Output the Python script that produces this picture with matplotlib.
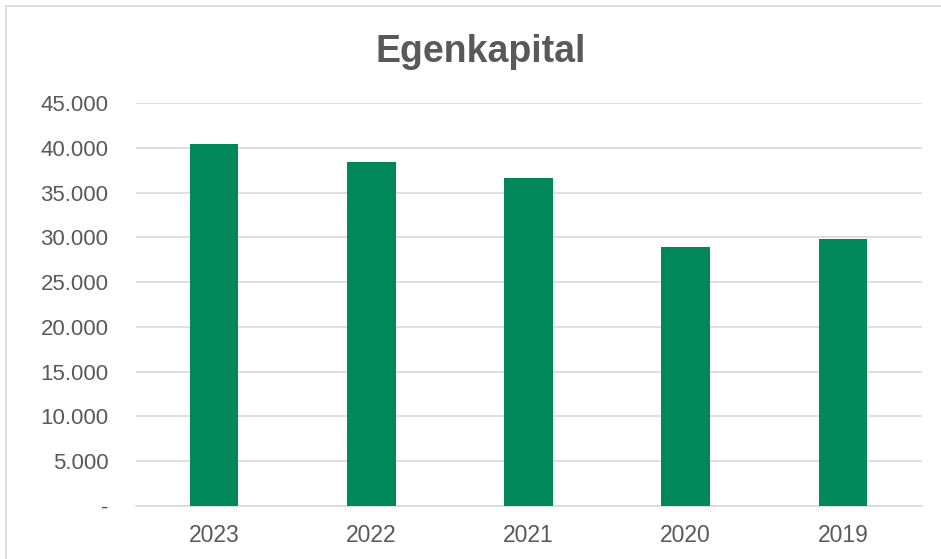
import matplotlib
matplotlib.use("Agg")
import matplotlib.pyplot as plt
from matplotlib.patches import Rectangle
from matplotlib.ticker import FuncFormatter

years = ["2023", "2022", "2021", "2020", "2019"]
equity = [40400, 38400, 36650, 28900, 29850]
yticks = [0, 5000, 10000, 15000, 20000, 25000, 30000, 35000, 40000, 45000]

plt.rcParams['font.family'] = ['Liberation Sans', 'DejaVu Sans']
textc = '#595959'

fig = plt.figure(figsize=(9.41, 5.59), dpi=100)
ax = fig.add_axes([135.5 / 941, (559 - 506) / 559, 786 / 941, 403 / 559])

# outer frame of the chart
fig.patches.append(Rectangle((6 / 941, -0.1), 1.1, (559 - 6) / 559 + 0.1,
                             transform=fig.transFigure, fill=False,
                             edgecolor='#d9d9d9', lw=1.2))

ax.bar(years, equity, width=0.31, color='#00875A', zorder=3)
ax.set_ylim(0, 45000)
ax.set_xlim(-0.5, 4.5)
ax.set_yticks(yticks)
ax.yaxis.set_major_formatter(FuncFormatter(
    lambda v, p: '-' if v == 0 else f"{int(v):,}".replace(',', '.')))
ax.grid(axis='y', color='#d9d9d9', lw=1.2, zorder=0)
for s in ['top', 'right', 'left']:
    ax.spines[s].set_visible(False)
ax.spines['bottom'].set_color('#d9d9d9')
ax.spines['bottom'].set_linewidth(1.2)
ax.tick_params(axis='both', length=0, colors=textc)
ax.tick_params(axis='y', pad=19.5, labelsize=16)
ax.tick_params(axis='x', pad=13, labelsize=16.5)

fig.text(481 / 941, 1 - 52 / 559, 'Egenkapital', ha='center', va='center',
         fontsize=27, fontweight='bold', color=textc)

fig.savefig('out.png', dpi=100)
